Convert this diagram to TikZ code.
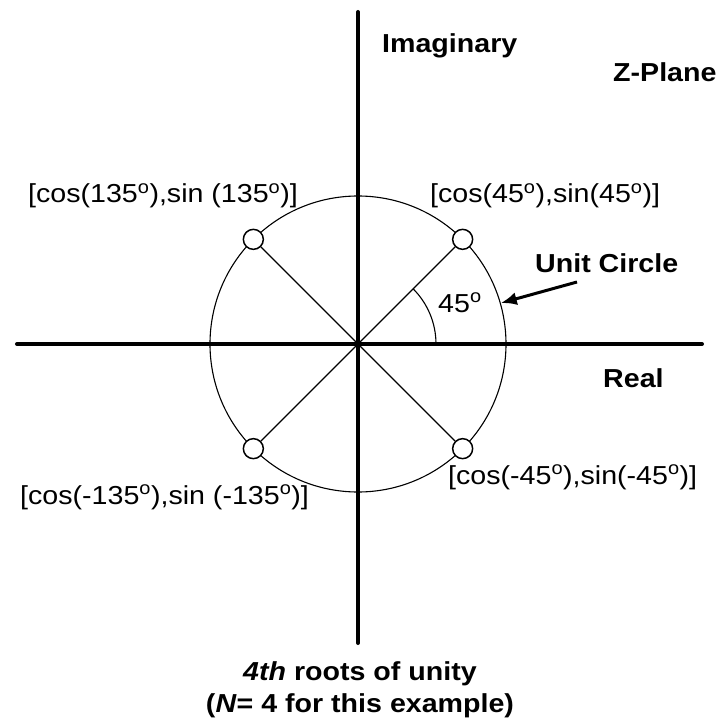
\documentclass[tikz,border=0pt]{standalone}
\usepackage{fontspec}
\setmainfont{Liberation Sans}[FakeStretch=1.1]
\usepackage{tikz}
\usetikzlibrary{arrows.meta,positioning}

\begin{document}
\begin{tikzpicture}[
  x=1pt, y=1pt,
  axis/.style={line width=4pt,line cap=round},
  thin line/.style={line width=1.1pt},
  root/.style={draw,circle,fill=white,line width=1.5pt,minimum size=20pt,inner sep=0pt},
  lbl/.style={font=\fontsize{26}{32}\selectfont,inner sep=0pt,anchor=base west},
  bold lbl/.style={lbl,font=\fontsize{26}{32}\selectfont\bfseries},
  arrow/.style={-{Latex[length=16pt,width=13pt]},line width=3pt}
]
\useasboundingbox (-358,-379) rectangle (359,344);
% axes
\coordinate (o) at (0,0);
\coordinate (west) at (-341,0);
\coordinate (east) at (344,0);
\coordinate (north) at (0,332);
\coordinate (south) at (0,-299);
\draw[axis] (west) -- (east);
\draw[axis] (north) -- (south);
% unit circle and roots
\node[draw,circle,thin line,minimum size=296pt,inner sep=0pt] (uc) at (o) {};
\node[root] (r45) at (45:148) {};
\node[root] (r135) at (135:148) {};
\node[root] (rm135) at (-135:148) {};
\node[root] (rm45) at (-45:148) {};
\foreach \r in {r45,r135,rm135,rm45}
  \draw[thin line] (o) -- (\r);
\draw[thin line] (78,0) arc[start angle=0,end angle=45,radius=78];
% labels
\node[lbl] (ang) at (80,32) {45\textsuperscript{o}};
\node[lbl] (l45) at (72,141) {[cos(45\textsuperscript{o}),sin(45\textsuperscript{o})]};
\node[lbl] (l135) at (-330,141) {[cos(135\textsuperscript{o}),sin (135\textsuperscript{o})]};
\node[lbl] (lm135) at (-338,-160) {[cos(-135\textsuperscript{o}),sin (-135\textsuperscript{o})]};
\node[lbl] (lm45) at (90,-140) {[cos(-45\textsuperscript{o}),sin(-45\textsuperscript{o})]};
\node[bold lbl] (imag) at (24,291) {Imaginary};
\node[bold lbl] (zplane) at (255,262) {Z-Plane};
\node[bold lbl] (real) at (245,-43) {Real};
\node[bold lbl] (unit) at (177,71) {Unit Circle};
\coordinate (tail) at (219,62);
\draw[arrow] (tail) -- (uc.16);
\node[bold lbl,anchor=base,align=center] (caption) at (2,-368)
  {\textit{4th} roots of unity\\(\textit{N}= 4 for this example)};
\end{tikzpicture}
\end{document}
